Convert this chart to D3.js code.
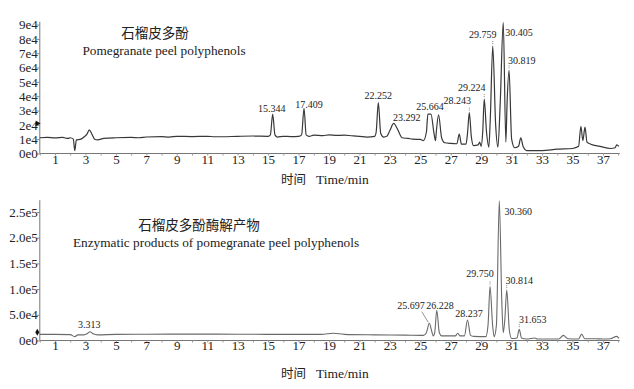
<!DOCTYPE html>
<html>
<head>
<meta charset="utf-8">
<script src="https://cdn.jsdelivr.net/npm/d3@7"></script>
<style>
  body { margin: 0; background: #fff; }
  svg { display: block; }
  .peak { font-family: "Liberation Serif", serif; font-size: 10px; fill: #222; }
</style>
</head>
<body>
<div id="chart"></div>
<script>
// time (min) and signal of the two chromatograms
const rawTime = [0, 0.5, 1.0, 1.5, 1.85, 2.0, 2.2, 2.3, 2.4, 2.7, 2.9, 3.1, 3.25, 3.4, 3.6, 3.8, 4.2, 5, 6, 6.5, 7, 8, 8.5, 9, 10, 11, 11.5, 12, 13, 14, 15.0, 15.15, 15.3, 15.45, 15.6, 16, 16.5, 17.0, 17.2, 17.36, 17.5, 17.7, 18, 18.6, 19, 19.5, 20, 20.5, 21, 21.5, 22.0, 22.1, 22.24, 22.4, 22.6, 22.8, 23.0, 23.25, 23.5, 23.8, 24.2, 24.5, 25.0, 25.2, 25.4, 25.5, 25.7, 25.9, 26.0, 26.05, 26.2, 26.4, 26.6, 27.0, 27.4, 27.56, 27.7, 28.0, 28.1, 28.22, 28.35, 28.5, 28.8, 28.9, 29.0, 29.1, 29.2, 29.35, 29.5, 29.6, 29.76, 29.95, 30.1, 30.25, 30.45, 30.62, 30.7, 30.83, 31.0, 31.2, 31.45, 31.6, 31.75, 32.0, 33, 34, 35, 35.4, 35.55, 35.68, 35.82, 35.95, 36.2, 36.8, 37.5, 37.8, 37.9, 38.05];
const rawSignal = [11000, 11200, 10900, 11200, 10500, 11000, 10000, 2000, 9500, 10000, 11500, 13500, 16500, 14000, 10000, 9500, 10500, 11000, 11200, 11000, 11500, 11800, 11500, 12000, 11800, 12000, 11700, 11700, 12000, 12200, 12000, 13000, 27500, 13000, 11500, 12000, 11800, 12000, 13000, 31500, 13000, 12000, 12800, 12500, 13000, 12600, 12800, 12400, 12000, 11500, 12000, 15000, 35500, 14000, 11500, 12000, 16000, 21000, 17000, 11000, 10500, 10000, 9800, 9000, 15000, 27500, 27500, 14000, 9000, 15000, 27000, 11000, 7500, 7000, 6800, 13500, 6500, 6500, 14000, 28500, 12000, 5500, 6000, 8000, 5000, 15000, 38000, 15000, 4500, 25000, 75000, 20000, 4500, 35000, 91500, 8000, 35000, 58000, 10000, 4000, 5000, 11000, 5000, 2000, 2000, 3000, 3500, 5000, 19000, 9000, 18500, 8000, 6500, 5000, 3500, 4000, 6000, 5000];

const enzTime = [0, 1, 2.0, 2.3, 2.5, 2.9, 3.1, 3.3, 3.5, 3.8, 5, 7, 10, 13, 15, 17, 18.5, 19.3, 20, 22, 24, 25.2, 25.4, 25.59, 25.75, 25.85, 25.95, 26.08, 26.25, 26.4, 27.3, 27.46, 27.6, 27.9, 28.1, 28.3, 28.5, 29.3, 29.45, 29.58, 29.75, 29.85, 30.0, 30.19, 30.35, 30.45, 30.55, 30.68, 30.85, 31.0, 31.35, 31.5, 31.65, 32.0, 32.5, 32.7, 34.1, 34.4, 34.7, 35.4, 35.6, 35.8, 36.5, 37, 37.5, 37.9, 38.05];
const enzSignal = [12000, 12000, 11500, 7500, 11000, 11000, 13000, 17000, 13000, 11000, 12000, 12200, 12500, 12200, 12000, 12000, 12000, 14000, 12000, 11000, 10500, 10000, 15000, 33500, 18000, 9000, 16000, 59000, 15000, 9000, 9000, 14000, 9000, 9000, 40000, 10000, 8000, 7500, 30000, 105000, 30000, 7500, 30000, 272000, 80000, 15000, 40000, 98000, 20000, 4000, 5000, 22000, 5000, 3000, 5000, 3000, 3000, 10000, 3500, 3000, 12500, 3500, 3500, 3000, 3500, 8000, 4000];

// peak labels: text, apex time, apex signal
const rawPeaks = [
  ["15.344", 15.3, 27500], ["17.409", 17.36, 31500], ["22.252", 22.24, 35500],
  ["23.292", 23.25, 21000], ["25.664", 25.6, 27500], ["28.243", 28.22, 28500],
  ["29.224", 29.2, 38000], ["29.759", 29.76, 75000], ["30.405", 30.45, 91500],
  ["30.819", 30.83, 58000]
];
const enzPeaks = [
  ["3.313", 3.3, 17000], ["25.697", 25.59, 33500], ["26.228", 26.08, 59000],
  ["28.237", 28.1, 40000], ["29.750", 29.58, 105000], ["30.360", 30.19, 272000],
  ["30.814", 30.68, 98000], ["31.653", 31.5, 22000]
];

const xTicks = d3.range(0, 39);
const rawYTicks = [0, 10000, 20000, 30000, 40000, 50000, 60000, 70000, 80000, 90000];
const rawYLabels = ["0e0", "1e4", "2e4", "3e4", "4e4", "5e4", "6e4", "7e4", "8e4", "9e4"];
const enzYTicks = [0, 50000, 100000, 150000, 200000, 250000];
const enzYLabels = ["0e0", "5.0e4", "1.0e5", "1.5e5", "2.0e5", "2.5e5"];

const titlesRaw = ["石榴皮多酚", "Pomegranate peel polyphenols"];
const titlesEnz = ["石榴皮多酚酶解产物", "Enzymatic products of pomegranate peel polyphenols"];

// label placement (pixels from apex: dx, dy, leader)
const rawLabelPos = [[-1, -2], [5, -0.5], [0, -4], [13, -2.5], [0.5, -4], [-12, -8.5, 'dot'],
  [-12.6, -7.8, 'dot'], [-10, -8, 'dot'], [15.7, 14], [12.7, -6.5, 'dot']];
const enzLabelPos = [[-0.7, -3.3], [-18.3, -14, 'slant'], [3.3, -1.5], [1.6, -2.5], [-10, -10, 'dot'],
  [19, 14.5], [12.6, -6.5, 'dot'], [13.4, -6.5, 'dot']];

const serif = '"Liberation Serif", "Times New Roman", serif';
const width = 634, height = 389;
const svg = d3.select('#chart').append('svg')
  .attr('width', width).attr('height', height);

const x = d3.scaleLinear().domain([0, 38.1]).range([39.8, 619.7]);

function drawPanel(cfg) {
  const g = svg.append('g');
  const y = d3.scaleLinear().domain([0, cfg.yMax]).range([cfg.y0, cfg.yTop]);

  // x axis
  const xAxis = g.append('g')
    .attr('transform', `translate(0,${cfg.y0})`)
    .call(d3.axisBottom(x).tickValues(xTicks).tickSize(2).tickPadding(0)
      .tickFormat(d => d % 2 === 1 ? d : ''));
  xAxis.attr('font-family', serif).attr('font-size', null);
  xAxis.select('.domain').attr('stroke', '#777').attr('d', `M${x(0)},0H${x(38.1)}`);
  xAxis.selectAll('.tick line').attr('stroke', '#999');
  xAxis.selectAll('.tick text').attr('y', cfg.labelDy).attr('dy', 0)
    .style('font-family', serif).style('font-size', '13px').style('fill', '#222');

  // y axis
  const yAxis = g.append('g')
    .attr('transform', `translate(${x(0)},0)`)
    .call(d3.axisLeft(y).tickValues(cfg.yTicks).tickSize(3).tickPadding(0)
      .tickFormat((d, i) => cfg.yLabels[i]));
  yAxis.attr('font-family', serif).attr('font-size', null);
  yAxis.select('.domain').attr('stroke', '#777').attr('d', `M0,${cfg.yTop}V${cfg.y0}`);
  yAxis.selectAll('.tick line').attr('stroke', '#888');
  yAxis.selectAll('.tick text').attr('x', -2)
    .style('font-family', serif).style('font-size', '13px').style('fill', '#222');

  // axis title
  const at = g.append('text').attr('x', 281).attr('y', cfg.y0 + cfg.titleDy)
    .style('fill', '#222');
  at.append('tspan').text('时间').style('font-family', '"Noto Sans CJK SC"').style('font-size', '12.5px');
  at.append('tspan').text('Time/min').attr('dx', 10)
    .style('font-family', serif).style('font-size', '13.5px');

  // trace
  const pts = cfg.time.map((t, i) => [t, cfg.signal[i]]);
  g.append('path')
    .datum(pts)
    .attr('fill', 'none')
    .attr('stroke', cfg.color)
    .attr('stroke-width', cfg.lineWidth)
    .attr('stroke-linejoin', 'round')
    .attr('d', d3.line().x(d => x(d[0])).y(d => y(d[1])).curve(d3.curveMonotoneX));

  // start marker
  g.append('path')
    .attr('d', d3.symbol(cfg.marker, 14)())
    .attr('transform', `translate(${x(0) - 2.5},${y(cfg.markerVal)}) rotate(${cfg.markerRot})`)
    .attr('fill', '#111');

  // peak labels
  cfg.peaks.forEach((p, i) => {
    const [dx, dy, lead] = cfg.labelPos[i];
    const px = x(p[1]), py = y(p[2]);
    g.append('text').attr('class', 'peak')
      .attr('x', px + dx).attr('y', py + dy)
      .attr('text-anchor', 'middle')
      .text(p[0]);
    if (lead === 'dot') {
      g.append('line')
        .attr('x1', px).attr('x2', px)
        .attr('y1', py - 5).attr('y2', py - 1.5)
        .attr('stroke', '#666').attr('stroke-width', 0.8)
        .attr('stroke-dasharray', '1,1');
    } else if (lead === 'slant') {
      g.append('line')
        .attr('x1', px - 7.5).attr('y1', py - 11.5)
        .attr('x2', px - 1).attr('y2', py - 1)
        .attr('stroke', '#777').attr('stroke-width', 0.8);
    }
  });

  // panel title
  g.append('text').attr('x', cfg.titleX).attr('y', cfg.titleY)
    .attr('text-anchor', 'middle')
    .style('font-family', '"Noto Sans CJK SC"').style('font-size', '13.5px').style('fill', '#222')
    .text(cfg.titles[0]);
  g.append('text').attr('x', cfg.subX).attr('y', cfg.titleY + 16.5)
    .attr('text-anchor', 'middle')
    .style('font-family', serif).style('font-size', '13.3px').style('fill', '#222')
    .text(cfg.titles[1]);
}

drawPanel({
  y0: 153.5, yTop: 21.7, yMax: 92000,
  yTicks: rawYTicks, yLabels: rawYLabels,
  time: rawTime, signal: rawSignal, color: '#383838', lineWidth: 1.2,
  peaks: rawPeaks, labelPos: rawLabelPos,
  labelDy: 10.5, titleDy: 30,
  titles: titlesRaw, titleX: 155, subX: 164, titleY: 38,
  marker: d3.symbolTriangle, markerVal: 21000, markerRot: 90
});

drawPanel({
  y0: 340.5, yTop: 200.2, yMax: 273000,
  yTicks: enzYTicks, yLabels: enzYLabels,
  time: enzTime, signal: enzSignal, color: '#6a6a6a', lineWidth: 1.1,
  peaks: enzPeaks, labelPos: enzLabelPos,
  labelDy: 9.5, titleDy: 37,
  titles: titlesEnz, titleX: 199, subX: 216, titleY: 230,
  marker: d3.symbolDiamond, markerVal: 16000, markerRot: 0
});
</script>
</body>
</html>
